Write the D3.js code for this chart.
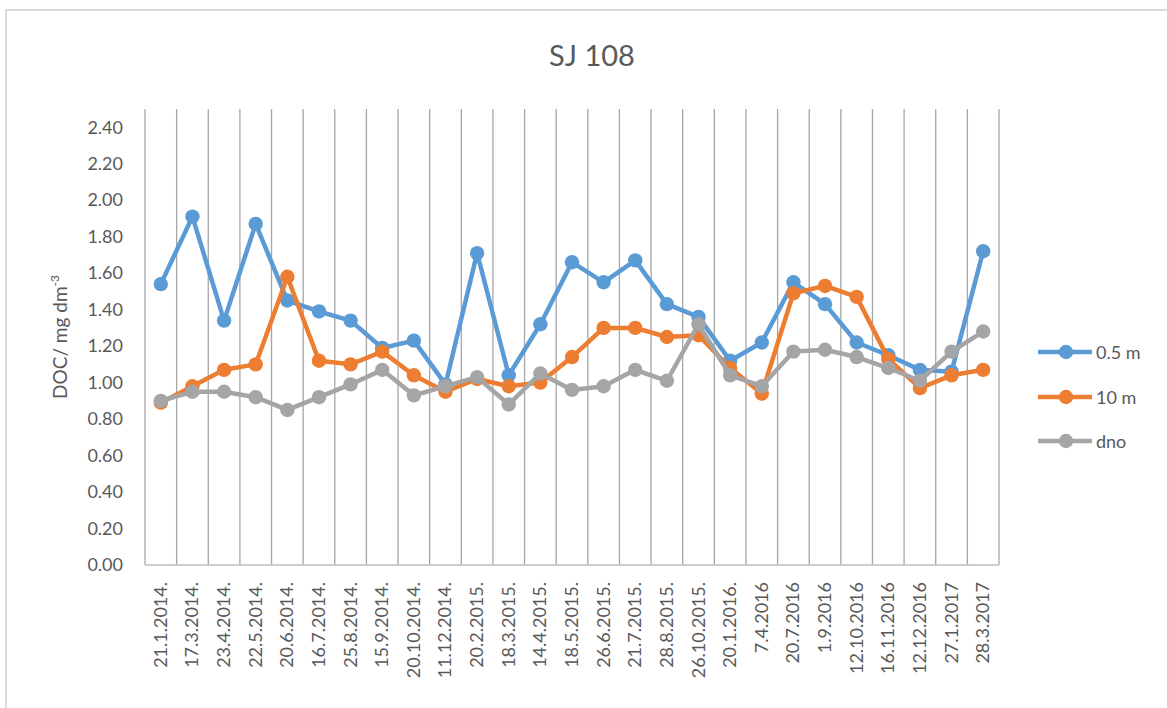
<!DOCTYPE html>
<html>
<head>
<meta charset="utf-8">
<script src="https://cdn.jsdelivr.net/npm/d3@7"></script>
<style>
  body { margin: 0; background: #fff; }
  text { font-family: Lato, "Open Sans", sans-serif; fill: #595959; }
</style>
</head>
<body>
<div class="chart"></div>
<script>
const dates = [
  "21.1.2014.", "17.3.2014.", "23.4.2014.", "22.5.2014.", "20.6.2014.",
  "16.7.2014.", "25.8.2014.", "15.9.2014.", "20.10.2014.", "11.12.2014.",
  "20.2.2015.", "18.3.2015.", "14.4.2015.", "18.5.2015.", "26.6.2015.",
  "21.7.2015.", "28.8.2015.", "26.10.2015.", "20.1.2016.", "7.4.2016",
  "20.7.2016", "1.9.2016", "12.10.2016", "16.11.2016", "12.12.2016",
  "27.1.2017", "28.3.2017"
];

const surface = [1.54, 1.91, 1.34, 1.87, 1.45, 1.39, 1.34, 1.19, 1.23, 0.99,
  1.71, 1.04, 1.32, 1.66, 1.55, 1.67, 1.43, 1.36, 1.12, 1.22,
  1.55, 1.43, 1.22, 1.15, 1.07, 1.06, 1.72];
const tenMetres = [0.89, 0.98, 1.07, 1.10, 1.58, 1.12, 1.10, 1.17, 1.04, 0.95,
  1.02, 0.98, 1.00, 1.14, 1.30, 1.30, 1.25, 1.26, 1.08, 0.94,
  1.49, 1.53, 1.47, 1.13, 0.97, 1.04, 1.07];
const bottom = [0.90, 0.95, 0.95, 0.92, 0.85, 0.92, 0.99, 1.07, 0.93, 0.98,
  1.03, 0.88, 1.05, 0.96, 0.98, 1.07, 1.01, 1.32, 1.04, 0.98,
  1.17, 1.18, 1.14, 1.08, 1.01, 1.17, 1.28];

const seriesNames = ["0.5 m", "10 m", "dno"];
const seriesColors = ["#5B9BD5", "#ED7D31", "#A5A5A5"];
const yTicks = [0, 0.2, 0.4, 0.6, 0.8, 1.0, 1.2, 1.4, 1.6, 1.8, 2.0, 2.2, 2.4];

const width = 1167, height = 708;
const plot = { left: 145, right: 999, top: 109, bottom: 565 };

const svg = d3.select(".chart")
  .append("svg")
  .attr("width", width)
  .attr("height", height);

// chart area border
svg.append("rect")
  .attr("x", 6).attr("y", 10)
  .attr("width", width + 20).attr("height", height + 20)
  .attr("fill", "none")
  .attr("stroke", "#D9D9D9")
  .attr("stroke-width", 2);

const x = d3.scaleBand().domain(dates).range([plot.left, plot.right]);
const y = d3.scaleLinear().domain([0, 2.5]).range([plot.bottom, plot.top]);

// title
svg.append("text")
  .attr("x", 592).attr("y", 66)
  .attr("text-anchor", "middle")
  .style("font-size", "29px")
  .text("SJ 108");

// vertical gridlines on category boundaries
const bounds = dates.map(d => x(d)).concat([plot.right]);
svg.append("g")
  .selectAll("line")
  .data(bounds)
  .enter()
  .append("line")
  .attr("x1", d => d).attr("x2", d => d)
  .attr("y1", plot.top).attr("y2", plot.bottom)
  .attr("stroke", "#A6A6A6")
  .attr("stroke-width", 1.3);

// bottom axis line
svg.append("line")
  .attr("x1", plot.left).attr("x2", plot.right)
  .attr("y1", plot.bottom).attr("y2", plot.bottom)
  .attr("stroke", "#BFBFBF")
  .attr("stroke-width", 1.3);

// y axis labels
const yAxis = svg.append("g")
  .attr("transform", `translate(${plot.left},0)`)
  .call(d3.axisLeft(y).tickValues(yTicks).tickFormat(d3.format(".2f")).tickSize(0).tickPadding(22));
yAxis.select(".domain").remove();
yAxis.selectAll("text")
  .style("font-size", "18px")
  .attr("fill", "#595959")
  .style("font-family", "Lato, 'Open Sans', sans-serif");

// x axis labels (rotated)
svg.append("g")
  .selectAll("text")
  .data(dates)
  .enter()
  .append("text")
  .attr("transform", d => `translate(${x(d) + x.bandwidth() / 2 + 6},${plot.bottom + 17}) rotate(-90)`)
  .attr("text-anchor", "end")
  .style("font-size", "18px")
  .text(d => d);

// y axis title
const yTitle = svg.append("text")
  .attr("transform", `translate(67,${(plot.top + plot.bottom) / 2}) rotate(-90)`)
  .attr("text-anchor", "middle")
  .style("font-size", "19px");
yTitle.append("tspan").text("DOC/ mg dm");
yTitle.append("tspan").attr("dy", -8).style("font-size", "12px").text("-3");

// series
const allSeries = [surface, tenMetres, bottom];
const line = d3.line()
  .x((d, i) => x(dates[i]) + x.bandwidth() / 2)
  .y(d => y(d));

allSeries.forEach((vals, s) => {
  const g = svg.append("g");
  g.append("path")
    .datum(vals)
    .attr("d", line)
    .attr("fill", "none")
    .attr("stroke", seriesColors[s])
    .attr("stroke-width", 4.5)
    .attr("stroke-linejoin", "round");
  g.selectAll("circle")
    .data(vals)
    .enter()
    .append("circle")
    .attr("cx", (d, i) => x(dates[i]) + x.bandwidth() / 2)
    .attr("cy", d => y(d))
    .attr("r", 7.2)
    .attr("fill", seriesColors[s]);
});

// legend
const legend = svg.append("g").attr("class", "legend");
const rowY = [352, 397, 441];
seriesNames.forEach((name, i) => {
  legend.append("line")
    .attr("x1", 1038).attr("x2", 1092)
    .attr("y1", rowY[i]).attr("y2", rowY[i])
    .attr("stroke", seriesColors[i])
    .attr("stroke-width", 4.5);
  legend.append("circle")
    .attr("cx", 1066).attr("cy", rowY[i])
    .attr("r", 7.2)
    .attr("fill", seriesColors[i]);
  legend.append("text")
    .attr("x", 1096).attr("y", rowY[i] + 6.5)
    .style("font-size", "18px")
    .text(name);
});
</script>
</body>
</html>
